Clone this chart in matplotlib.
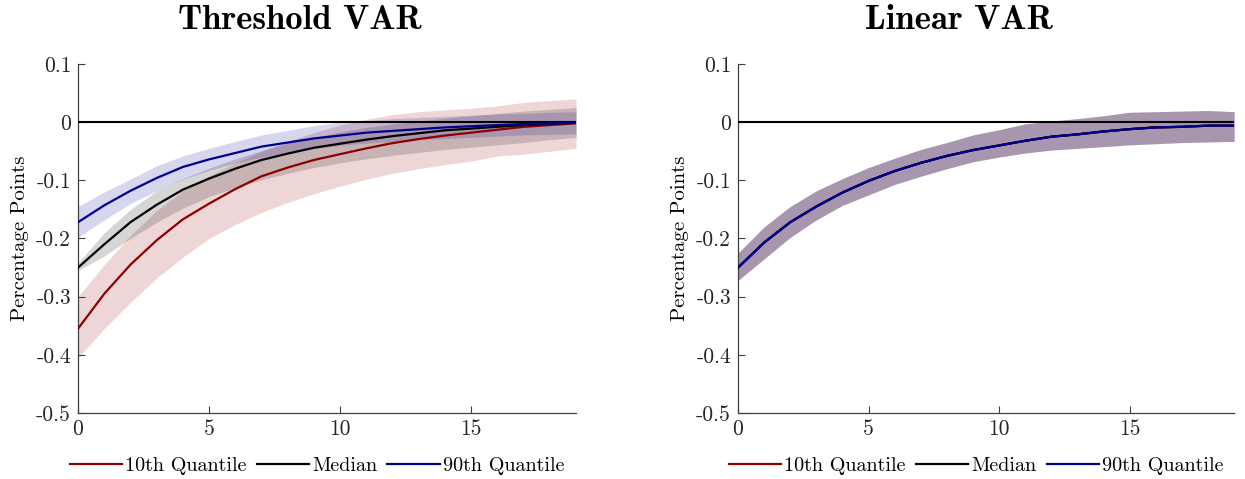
import matplotlib
matplotlib.use("Agg")
import matplotlib.pyplot as plt
import numpy as np

plt.rcParams["font.family"] = ["cmr10", "DejaVu Serif"]
plt.rcParams["axes.unicode_minus"] = False
plt.rcParams["axes.formatter.use_mathtext"] = False

horizon = np.arange(20)

# Threshold VAR: impulse responses by quantile, with error bands
tvar_q10 = [-0.355, -0.295, -0.245, -0.203, -0.167, -0.140, -0.115, -0.093, -0.078, -0.065,
            -0.055, -0.045, -0.036, -0.029, -0.023, -0.018, -0.013, -0.008, -0.005, -0.002]
tvar_q10_lo = [-0.405, -0.355, -0.310, -0.268, -0.232, -0.200, -0.176, -0.155, -0.138, -0.123,
               -0.110, -0.098, -0.088, -0.080, -0.073, -0.067, -0.058, -0.055, -0.050, -0.045]
tvar_q10_hi = [-0.300, -0.245, -0.195, -0.152, -0.118, -0.092, -0.070, -0.050, -0.033, -0.018,
               -0.005, 0.005, 0.013, 0.018, 0.021, 0.024, 0.028, 0.034, 0.037, 0.040]

tvar_med = [-0.250, -0.210, -0.172, -0.142, -0.116, -0.097, -0.080, -0.065, -0.054, -0.044,
            -0.037, -0.030, -0.024, -0.019, -0.014, -0.011, -0.008, -0.005, -0.003, -0.001]
tvar_med_lo = [-0.255, -0.230, -0.200, -0.172, -0.148, -0.128, -0.113, -0.099, -0.088, -0.078,
               -0.070, -0.063, -0.057, -0.052, -0.047, -0.043, -0.039, -0.035, -0.030, -0.026]
tvar_med_hi = [-0.242, -0.190, -0.150, -0.118, -0.097, -0.079, -0.063, -0.049, -0.036, -0.026,
               -0.017, -0.009, -0.003, 0.002, 0.007, 0.011, 0.015, 0.019, 0.022, 0.025]

tvar_q90 = [-0.172, -0.143, -0.118, -0.096, -0.077, -0.064, -0.053, -0.042, -0.035, -0.028,
            -0.023, -0.018, -0.015, -0.012, -0.009, -0.007, -0.005, -0.003, -0.002, -0.001]
tvar_q90_lo = [-0.198, -0.168, -0.140, -0.118, -0.098, -0.083, -0.070, -0.060, -0.052, -0.045,
               -0.040, -0.036, -0.033, -0.030, -0.028, -0.026, -0.024, -0.022, -0.021, -0.020]
tvar_q90_hi = [-0.145, -0.120, -0.098, -0.075, -0.058, -0.045, -0.033, -0.022, -0.014, -0.006,
               0.000, 0.003, 0.006, 0.008, 0.010, 0.012, 0.014, 0.015, 0.017, 0.018]

# Linear VAR: one response, identical across quantiles
lvar_irf = [-0.250, -0.207, -0.172, -0.145, -0.121, -0.101, -0.084, -0.070, -0.058, -0.048,
            -0.040, -0.032, -0.025, -0.021, -0.016, -0.012, -0.009, -0.008, -0.006, -0.006]
lvar_lo = [-0.272, -0.235, -0.198, -0.168, -0.143, -0.125, -0.107, -0.093, -0.080, -0.068,
           -0.060, -0.053, -0.048, -0.045, -0.042, -0.039, -0.037, -0.035, -0.034, -0.033]
lvar_hi = [-0.225, -0.180, -0.145, -0.118, -0.097, -0.078, -0.062, -0.047, -0.035, -0.022,
           -0.013, -0.003, 0.002, 0.006, 0.011, 0.017, 0.018, 0.019, 0.020, 0.018]

titles = ["Threshold VAR", "Linear VAR"]
labels = ["10th Quantile", "Median", "90th Quantile"]
line_colors = [(0.55, 0.0, 0.0), (0.0, 0.0, 0.0), (0.0, 0.0, 0.55)]
band_colors = [(0.6, 0.0, 0.0), (0.0, 0.0, 0.0), (0.0, 0.0, 0.6)]
yticks = [0.1, 0, -0.1, -0.2, -0.3, -0.4, -0.5]
ytick_labels = ["0.1", "0", "-0.1", "-0.2", "-0.3", "-0.4", "-0.5"]
xticks = [0, 5, 10, 15]

panels = [
    [(tvar_q10, tvar_q10_lo, tvar_q10_hi),
     (tvar_med, tvar_med_lo, tvar_med_hi),
     (tvar_q90, tvar_q90_lo, tvar_q90_hi)],
    [(lvar_irf, lvar_lo, lvar_hi)] * 3,
]

fig = plt.figure(figsize=(12.45, 4.79), dpi=100)
axes = [fig.add_axes([0.0627, 0.1378, 0.4000, 0.7286]),
        fig.add_axes([0.5928, 0.1378, 0.3985, 0.7286])]

for ax, title, series in zip(axes, titles, panels):
    for (mid, lo, hi), bc in zip(series, band_colors):
        ax.fill_between(horizon, lo, hi, color=bc, alpha=0.16, linewidth=0)
    ax.axhline(0, color="black", linewidth=1.5, zorder=3)
    handles = []
    for (mid, lo, hi), lc, lab in zip(series, line_colors, labels):
        h, = ax.plot(horizon, mid, color=lc, linewidth=1.6, label=lab, zorder=4)
        handles.append(h)

    ax.set_xlim(0, 19)
    ax.set_ylim(-0.5, 0.1)
    ax.set_xticks(xticks)
    ax.set_xticklabels([str(t) for t in xticks])
    ax.set_yticks(yticks)
    ax.set_yticklabels(ytick_labels)
    ax.tick_params(direction="in", length=5, width=0.8, labelsize=15.5, pad=5,
                   colors=(0.25, 0.25, 0.25), labelcolor=(0.15, 0.15, 0.15))
    for side in ("top", "right"):
        ax.spines[side].set_visible(False)
    for side in ("left", "bottom"):
        ax.spines[side].set_color((0.25, 0.25, 0.25))
        ax.spines[side].set_linewidth(0.9)
    ax.set_ylabel("Percentage Points", fontsize=15, labelpad=5)
    ax.set_title(title, fontsize=25, family=["cmb10", "DejaVu Serif"], x=0.445, pad=25)
    ax.legend(handles=handles, loc="center", bbox_to_anchor=(0.48, -0.152), ncol=3,
              frameon=False, fontsize=14.5, handlelength=2.6, handletextpad=0.15,
              columnspacing=0.5)

fig.savefig("out.png", dpi=100)
